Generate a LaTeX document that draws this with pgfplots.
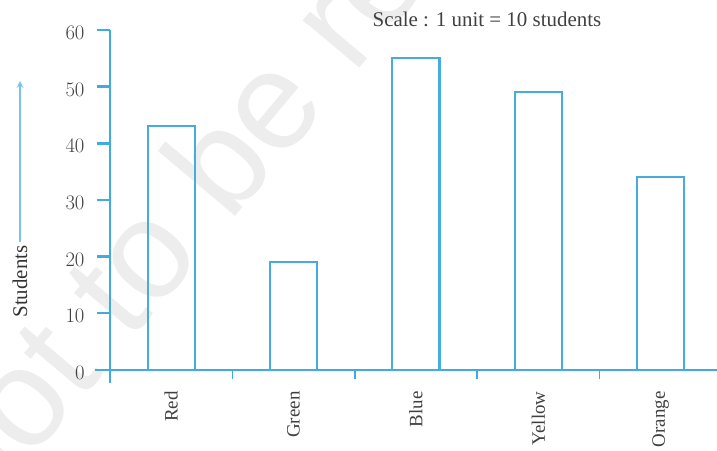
\documentclass[border=0pt]{standalone}
\usepackage{pgfplots}
\pgfplotsset{compat=1.18}
\usepackage{fontspec}
\setmainfont{Liberation Serif}
\newfontfamily\wmfont{Liberation Sans}
\definecolor{axblue}{RGB}{66,170,222}
\definecolor{barblue}{RGB}{70,172,222}
\begin{document}
\begin{tikzpicture}[x=1bp,y=1bp]
\clip (0,0) rectangle (717,451);
\node[rotate=50, anchor=base west, text=black!7, inner sep=0, font=\wmfont\fontsize{140}{140}\selectfont] at (-20,-70) {not to be republished};
\begin{axis}[
  at={(110bp,68bp)}, anchor=south west,
  scale only axis, width=607bp, height=353bp,
  xmin=-0.5, xmax=4.46, ymin=-2.3, ymax=60,
  axis x line=middle, axis y line=left,
  axis line style={-, draw=axblue, line width=2.4bp},
  hide obscured x ticks=false, hide obscured y ticks=false,
  ytick={0,10,...,60},
  ytick style={draw=axblue, line width=2.4bp},
  major tick length=13bp,
  tick align=outside,
  xtick={0,1,2,3,4},
  xticklabels={Red,Green,Blue,Yellow,Orange},
  xtick style={draw=none},
  xticklabel shift=5bp,
  xticklabel style={rotate=90, anchor=east, font=\fontsize{19}{22}\selectfont, text=black!75},
  yticklabel style={xshift=-9bp, yshift=-3bp, font=\fontsize{20}{22}\selectfont, text=black!75},
  clip=false,
]
\addplot[ybar, bar width=0.385, draw=barblue, line width=2.2bp, fill=none] coordinates {(0,43) (1,19) (2,55) (3,49) (4,34)};
\draw[axblue, line width=2.4bp] (axis cs:-0.62,0) -- (axis cs:-0.5,0);
\draw[axblue, line width=1.5bp] (axis cs:0.5,0) -- (axis cs:0.5,-1.6);
\draw[axblue, line width=1.5bp] (axis cs:1.5,0) -- (axis cs:1.5,-1.6);
\draw[axblue, line width=1.5bp] (axis cs:2.5,0) -- (axis cs:2.5,-1.6);
\draw[axblue, line width=1.5bp] (axis cs:3.5,0) -- (axis cs:3.5,-1.6);
\node[font=\fontsize{21}{22}\selectfont, text=black!75] at (axis cs:2.58,61.8) {Scale : 1 unit = 10 students};
\node[rotate=90, font=\fontsize{21}{22}\selectfont, text=black!80] at (axis cs:-1.235,15.6) {Students};
\draw[axblue!70, line width=2bp, -stealth] (axis cs:-1.235,22.6) -- (axis cs:-1.235,51);
\end{axis}
\end{tikzpicture}
\end{document}
